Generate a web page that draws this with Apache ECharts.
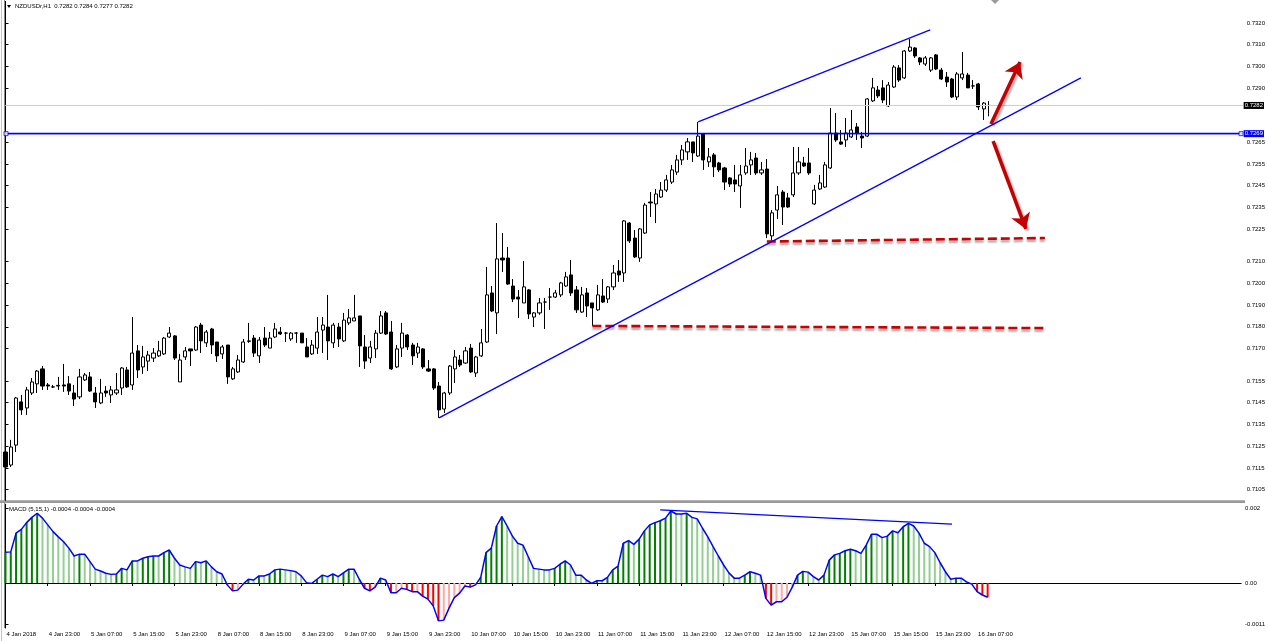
<!DOCTYPE html>
<html><head><meta charset="utf-8">
<script src="https://cdn.jsdelivr.net/npm/echarts@6/dist/echarts.min.js"></script>
<style>html,body{margin:0;padding:0;background:#fff}#c{width:1268px;height:641px}</style>
</head><body><div id="c"></div>
<script>
// ---------- DATA ----------
const opens = [
0.71223,0.71163,0.71255,0.71454,0.71426,0.71495,0.71537,0.71606,0.71532,0.71523,
0.71530,0.71532,0.71537,0.71495,0.71477,0.71555,0.71569,0.71495,0.71449,0.71504,
0.71486,0.71495,0.71518,0.71601,0.71532,0.71689,0.71615,0.71642,0.71656,0.71666,
0.71675,0.71753,0.71758,0.71546,0.71661,0.71698,0.71693,0.71808,0.71726,0.71790,
0.71730,0.71675,0.71716,0.71560,0.71592,0.71638,0.71733,0.71748,0.71666,0.71748,
0.71702,0.71753,0.71776,0.71771,0.71744,0.71771,0.71771,0.71707,0.71675,0.71702,
0.71785,0.71799,0.71726,0.71799,0.71735,0.71818,0.71827,0.71850,0.71707,0.71656,
0.71698,0.71771,0.71864,0.71776,0.71615,0.71702,0.71762,0.71716,0.71679,0.71698,
0.71606,0.71606,0.71527,0.71421,0.71495,0.71606,0.71647,0.71633,0.71702,0.71587,
0.71666,0.71730,0.71956,0.71864,0.72117,0.72117,0.71988,0.71937,0.71910,0.71970,
0.71845,0.71864,0.71914,0.71937,0.71937,0.71947,0.71988,0.72039,0.71970,0.71868,
0.71956,0.71910,0.71878,0.71942,0.71928,0.71984,0.72057,0.72048,0.72278,0.72209,
0.72117,0.72232,0.72375,0.72366,0.72398,0.72430,0.72467,0.72513,0.72569,0.72606,
0.72652,0.72587,0.72689,0.72560,0.72592,0.72555,0.72532,0.72486,0.72477,0.72449,
0.72509,0.72546,0.72578,0.72509,0.72527,0.72219,0.72338,0.72421,0.72394,0.72408,
0.72509,0.72555,0.72555,0.72366,0.72435,0.72444,0.72532,0.72693,0.72652,0.72661,
0.72675,0.72721,0.72679,0.72679,0.72841,0.72891,0.72901,0.72818,0.72905,0.72993,
0.72947,0.73071,0.73085,0.73039,0.73011,0.72983,0.73053,0.72983,0.72951,0.72942,
0.72859,0.72947,0.72960,0.72910,0.72919,0.72804,0.72820];
const closes = [
0.71154,0.71246,0.71472,0.71417,0.71509,0.71546,0.71596,0.71527,0.71527,0.71523,
0.71527,0.71527,0.71504,0.71467,0.71569,0.71578,0.71504,0.71454,0.71495,0.71495,
0.71509,0.71509,0.71610,0.71523,0.71679,0.71601,0.71661,0.71670,0.71679,0.71689,
0.71748,0.71771,0.71656,0.71647,0.71689,0.71689,0.71799,0.71735,0.71776,0.71716,
0.71666,0.71707,0.71569,0.71606,0.71647,0.71730,0.71735,0.71679,0.71739,0.71716,
0.71748,0.71790,0.71767,0.71771,0.71771,0.71771,0.71726,0.71661,0.71716,0.71776,
0.71808,0.71735,0.71808,0.71744,0.71831,0.71841,0.71841,0.71712,0.71642,0.71707,
0.71771,0.71850,0.71767,0.71606,0.71698,0.71771,0.71707,0.71666,0.71707,0.71615,
0.71596,0.71518,0.71417,0.71495,0.71619,0.71661,0.71624,0.71689,0.71592,0.71661,
0.71726,0.71947,0.71873,0.72113,0.72108,0.71997,0.71928,0.71928,0.71984,0.71859,
0.71864,0.71910,0.71914,0.71937,0.71956,0.72002,0.72030,0.71956,0.71878,0.71947,
0.71896,0.71887,0.71947,0.71914,0.71984,0.72048,0.72039,0.72288,0.72196,0.72122,
0.72251,0.72361,0.72371,0.72412,0.72430,0.72477,0.72523,0.72569,0.72615,0.72652,
0.72601,0.72679,0.72569,0.72583,0.72537,0.72523,0.72467,0.72458,0.72458,0.72500,
0.72541,0.72569,0.72509,0.72523,0.72228,0.72325,0.72408,0.72352,0.72352,0.72509,
0.72560,0.72541,0.72509,0.72430,0.72463,0.72546,0.72693,0.72661,0.72642,0.72693,
0.72707,0.72693,0.72670,0.72850,0.72901,0.72864,0.72845,0.72914,0.72997,0.72937,
0.73071,0.73089,0.73048,0.73020,0.73039,0.73039,0.72988,0.72942,0.72928,0.72859,
0.72965,0.72965,0.72901,0.72910,0.72813,0.72831,0.72820];
const lows = [
0.71131,0.71154,0.71223,0.71394,0.71394,0.71486,0.71495,0.71509,0.71509,0.71518,
0.71509,0.71500,0.71486,0.71435,0.71467,0.71550,0.71500,0.71426,0.71444,0.71477,
0.71449,0.71486,0.71486,0.71518,0.71509,0.71564,0.71583,0.71596,0.71638,0.71661,
0.71670,0.71748,0.71647,0.71546,0.71647,0.71619,0.71689,0.71679,0.71707,0.71675,
0.71638,0.71652,0.71537,0.71555,0.71587,0.71633,0.71726,0.71661,0.71633,0.71707,
0.71702,0.71748,0.71762,0.71730,0.71735,0.71726,0.71726,0.71661,0.71670,0.71675,
0.71679,0.71647,0.71702,0.71707,0.71730,0.71808,0.71827,0.71615,0.71606,0.71633,
0.71656,0.71767,0.71762,0.71601,0.71610,0.71661,0.71693,0.71624,0.71656,0.71606,
0.71592,0.71509,0.71380,0.71403,0.71486,0.71541,0.71615,0.71629,0.71587,0.71569,
0.71661,0.71726,0.71868,0.71767,0.72053,0.71993,0.71914,0.71841,0.71910,0.71836,
0.71799,0.71855,0.71790,0.71878,0.71933,0.71937,0.71984,0.71942,0.71864,0.71864,
0.71845,0.71804,0.71873,0.71910,0.71910,0.71970,0.72007,0.72007,0.72186,0.72117,
0.72099,0.72228,0.72306,0.72278,0.72394,0.72421,0.72458,0.72500,0.72546,0.72569,
0.72560,0.72583,0.72523,0.72537,0.72490,0.72513,0.72430,0.72444,0.72421,0.72348,
0.72500,0.72500,0.72500,0.72500,0.72209,0.72191,0.72297,0.72269,0.72348,0.72398,
0.72500,0.72537,0.72500,0.72361,0.72430,0.72440,0.72527,0.72652,0.72638,0.72629,
0.72670,0.72661,0.72624,0.72675,0.72836,0.72854,0.72831,0.72813,0.72901,0.72928,
0.72942,0.73066,0.73039,0.73006,0.73002,0.72974,0.72983,0.72937,0.72905,0.72854,
0.72845,0.72937,0.72901,0.72896,0.72799,0.72753,0.72770];
const highs = [
0.71242,0.71279,0.71477,0.71486,0.71523,0.71564,0.71601,0.71619,0.71541,0.71532,
0.71569,0.71629,0.71573,0.71532,0.71606,0.71587,0.71592,0.71523,0.71560,0.71527,
0.71527,0.71587,0.71615,0.71615,0.71845,0.71716,0.71712,0.71689,0.71702,0.71735,
0.71753,0.71799,0.71762,0.71675,0.71707,0.71698,0.71804,0.71818,0.71785,0.71795,
0.71730,0.71716,0.71716,0.71615,0.71670,0.71744,0.71818,0.71762,0.71753,0.71799,
0.71776,0.71818,0.71799,0.71776,0.71776,0.71776,0.71771,0.71748,0.71739,0.71845,
0.71845,0.71947,0.71818,0.71818,0.71864,0.71882,0.71947,0.71850,0.71762,0.71735,
0.71785,0.71873,0.71873,0.71827,0.71716,0.71818,0.71767,0.71726,0.71726,0.71702,
0.71647,0.71610,0.71546,0.71500,0.71624,0.71693,0.71670,0.71707,0.71721,0.71666,
0.71790,0.72076,0.71988,0.72278,0.72232,0.72168,0.72020,0.71970,0.72103,0.71974,
0.71868,0.71933,0.71933,0.71979,0.71970,0.72007,0.72053,0.72108,0.71988,0.71984,
0.71979,0.71910,0.71993,0.72020,0.71988,0.72085,0.72108,0.72292,0.72283,0.72246,
0.72255,0.72371,0.72421,0.72435,0.72467,0.72500,0.72546,0.72592,0.72638,0.72670,
0.72652,0.72744,0.72693,0.72624,0.72601,0.72560,0.72537,0.72490,0.72546,0.72546,
0.72624,0.72606,0.72601,0.72560,0.72573,0.72338,0.72449,0.72430,0.72417,0.72629,
0.72629,0.72583,0.72624,0.72454,0.72500,0.72560,0.72808,0.72785,0.72707,0.72762,
0.72799,0.72739,0.72698,0.72854,0.72947,0.72910,0.72937,0.72928,0.73006,0.73006,
0.73076,0.73126,0.73089,0.73043,0.73048,0.73043,0.73057,0.72993,0.72974,0.72947,
0.72974,0.73066,0.72970,0.72937,0.72924,0.72836,0.72840];
// MACD (5,15,1) main values (signal of period 1 equals main)
const macdValues = [
0.00082,0.00083,0.00133,0.00143,0.00161,0.00175,0.00186,0.00173,0.00155,0.00137,
0.00123,0.00110,0.00093,0.00072,0.00077,0.00077,0.00057,0.00037,0.00032,0.00026,
0.00023,0.00024,0.00039,0.00035,0.00059,0.00059,0.00066,0.00070,0.00072,0.00072,
0.00081,0.00088,0.00066,0.00048,0.00043,0.00039,0.00057,0.00054,0.00059,0.00043,
0.00030,0.00024,-0.00005,-0.00021,-0.00019,-0.00003,0.00010,0.00008,0.00019,0.00019,
0.00024,0.00035,0.00037,0.00035,0.00033,0.00030,0.00019,0.00001,-0.00001,0.00010,
0.00021,0.00017,0.00024,0.00017,0.00027,0.00037,0.00037,0.00010,-0.00014,-0.00021,
-0.00011,0.00013,0.00008,-0.00026,-0.00026,-0.00014,-0.00017,-0.00023,-0.00023,-0.00035,
-0.00043,-0.00061,-0.00101,-0.00099,-0.00067,-0.00039,-0.00027,-0.00008,-0.00011,-0.00005,
0.00015,0.00081,0.00093,0.00152,0.00177,0.00152,0.00125,0.00106,0.00101,0.00070,
0.00039,0.00037,0.00035,0.00035,0.00039,0.00050,0.00059,0.00048,0.00021,0.00021,
0.00008,-0.00001,0.00006,0.00006,0.00015,0.00035,0.00045,0.00106,0.00113,0.00103,
0.00117,0.00139,0.00155,0.00161,0.00166,0.00173,0.00192,0.00184,0.00184,0.00186,
0.00175,0.00171,0.00146,0.00123,0.00097,0.00072,0.00048,0.00027,0.00013,0.00013,
0.00021,0.00030,0.00026,0.00021,-0.00041,-0.00059,-0.00050,-0.00050,-0.00038,-0.00011,
0.00021,0.00031,0.00029,0.00017,0.00008,0.00021,0.00061,0.00075,0.00079,0.00086,
0.00090,0.00086,0.00079,0.00101,0.00130,0.00130,0.00121,0.00125,0.00139,0.00134,
0.00150,0.00159,0.00152,0.00133,0.00106,0.00097,0.00081,0.00054,0.00030,0.00010,
0.00013,0.00013,0.00003,-0.00003,-0.00023,-0.00032,-0.00038];

const xTickLabels = ['4 Jan 2018','4 Jan 23:00','5 Jan 07:00','5 Jan 15:00','5 Jan 23:00','8 Jan 07:00',
 '8 Jan 15:00','8 Jan 23:00','9 Jan 07:00','9 Jan 15:00','9 Jan 23:00','10 Jan 07:00','10 Jan 15:00',
 '10 Jan 23:00','11 Jan 07:00','11 Jan 15:00','11 Jan 23:00','12 Jan 07:00','12 Jan 15:00','12 Jan 23:00',
 '15 Jan 07:00','15 Jan 15:00','15 Jan 23:00','16 Jan 07:00'];
const priceTicks = [0.7320,0.7310,0.7300,0.7290,0.7265,0.7255,0.7245,0.7235,0.7225,0.7210,0.7200,
 0.7190,0.7180,0.7170,0.7155,0.7145,0.7135,0.7125,0.7115,0.7105];
const macdTickValues = [0.002, 0, -0.0011];
const macdTickLabels = ['0.002', '0.00', '-0.0011'];

const hLevel = 0.7269;        // horizontal blue line
const currentPrice = 0.7282;  // bid line
// drawn objects, in [bar index, price]
const channelLow = [[82, 0.71380], [203.4, 0.72947]];
const channelHigh = [[131, 0.72744], [174.9, 0.73168]];
const supportA = [[144, 0.72193], [196.6, 0.72209]];
const supportB = [[111, 0.71804], [196.6, 0.71794]];
const arrowUp = [[186.4, 0.72735], [191.9, 0.73020]];
const arrowDown = [[186.8, 0.72656], [193.0, 0.72251]];
const macdTrend = [[124, 0.00195], [179.25, 0.00157]];

// ---------- build ----------
const SLOTS = 235;
function hourSlots(n){
  const out = []; let t = Date.UTC(2018,0,4,15);
  while (out.length < n) {
    const d = new Date(t), wd = d.getUTCDay();
    if (wd !== 0 && wd !== 6) out.push(d.getUTCDate()+' Jan '+String(d.getUTCHours()).padStart(2,'0')+':00');
    t += 3600000;
  }
  return out;
}
const categories = hourSlots(SLOTS);
const candleData = opens.map((o,i)=>[o, closes[i], lows[i], highs[i]]);
const macdBars = macdValues.map((v,i)=>{
  const p = i>0 ? macdValues[i-1] : -1;
  let c;
  if (v >= 0) c = v > p ? '#008000' : '#93cf93';
  else c = v < p ? '#ff0000' : '#ffa8a8';
  return {value:v, itemStyle:{color:c}};
});
const FONT = 'Liberation Sans';
const showTick = idx => idx % 8 === 0 && idx/8 < xTickLabels.length;
const near = (v, list) => list.findIndex(t => Math.abs(v - t) < 1e-7);
const priceLine = (val, color, width, bg) => [
  {coord:[0, val], lineStyle:{color:color, width:width, type:'solid'},
   label:{show:true, position:'end', distance:1, formatter:val.toFixed(4), color:'#fff',
     backgroundColor:bg, padding:[1,1,0,1], fontSize:6, fontFamily:FONT}},
  {coord:[SLOTS-1, val]}
];

const G0 = {left:5.5, right:23, top:1.3, height:499.1};
const G1 = {left:5.5, right:23, top:504.25, height:123.75};

const chart = echarts.init(document.getElementById('c'), null, {renderer:'canvas'});
chart.setOption({
  animation:false,
  backgroundColor:'#fff',
  grid:[G0, G1],
  xAxis:[
    {type:'category', gridIndex:0, data:categories, boundaryGap:false, show:false},
    {type:'category', gridIndex:1, data:categories, boundaryGap:false,
     axisLine:{show:true, lineStyle:{color:'#000', width:1}},
     axisTick:{show:true, interval:showTick, length:3, lineStyle:{color:'#000'}},
     axisLabel:{interval:showTick, align:'left', margin:3, padding:[0,0,0,1], fontSize:6, fontFamily:FONT, color:'#000',
       formatter:(v,idx)=> xTickLabels[idx/8] || ''},
     splitLine:{show:false}},
    {type:'value', gridIndex:0, min:0, max:SLOTS-1, show:false},
    {type:'value', gridIndex:1, min:0, max:SLOTS-1, show:false}
  ],
  yAxis:[
    {type:'value', gridIndex:0, position:'right', min:0.7100, max:0.7330, interval:0.0005,
     axisLine:{show:true, lineStyle:{color:'#000', width:1}},
     axisTick:{show:true, length:3, customValues:priceTicks, lineStyle:{color:'#000'}},
     axisLabel:{customValues:priceTicks, margin:4, fontSize:6, fontFamily:FONT, color:'#000',
       formatter:v => near(v, priceTicks) >= 0 ? v.toFixed(4) : ''},
     splitLine:{show:false}},
    {type:'value', gridIndex:1, position:'right', min:-0.0012, max:0.0021, interval:0.0001,
     axisLine:{show:true, lineStyle:{color:'#000', width:1}},
     axisTick:{show:true, length:3, customValues:macdTickValues, lineStyle:{color:'#000'}},
     axisLabel:{customValues:macdTickValues, margin:4, fontSize:6, fontFamily:FONT, color:'#000',
       formatter:v => { const k = near(v, macdTickValues); return k >= 0 ? macdTickLabels[k] : ''; }},
     splitLine:{show:false}}
  ],
  series:[
    {type:'line', xAxisIndex:2, yAxisIndex:0, data:[[0,currentPrice],[SLOTS-1,currentPrice]], symbol:'none', z:1,
     lineStyle:{color:'#cfcfcf', width:1}, silent:true,
     markLine:{silent:true, symbol:'none', animation:false, data:[
       priceLine(currentPrice, '#cfcfcf', 1, '#000000')
     ]}},
    {type:'candlestick', xAxisIndex:0, yAxisIndex:0, data:candleData, barWidth:3.6, z:2,
     itemStyle:{color:'#ffffff', color0:'#000000', borderColor:'#000000', borderColor0:'#000000',
       borderColorDoji:'#000000', borderWidth:1}},
    {type:'line', xAxisIndex:2, yAxisIndex:0, data:[[0,hLevel],[SLOTS-1,hLevel]], symbol:'none', z:5,
     lineStyle:{color:'#0000ff', width:1.3}, silent:true,
     markLine:{silent:true, symbol:'none', animation:false, data:[
       priceLine(hLevel, '#0000ff', 1.3, '#0000ff')
     ]}},
    {type:'line', xAxisIndex:2, yAxisIndex:0, data:channelLow, symbol:'none', z:5,
     lineStyle:{color:'#0000ff', width:1.3},
     markLine:{silent:true, animation:false, symbol:['none','arrow'], symbolSize:15,
       lineStyle:{color:'#c40000', width:3.5, type:'solid', shadowColor:'rgba(0,0,0,0.3)', shadowBlur:2, shadowOffsetX:2, shadowOffsetY:2},
       label:{show:false},
       data:[
         [{coord:arrowUp[0]},{coord:arrowUp[1]}],
         [{coord:arrowDown[0]},{coord:arrowDown[1]}]
       ]}},
    {type:'line', xAxisIndex:2, yAxisIndex:0, data:channelHigh, symbol:'none', z:5,
     lineStyle:{color:'#0000ff', width:1.3}},
    {type:'line', xAxisIndex:2, yAxisIndex:0, data:supportA, symbol:'none', z:4,
     lineStyle:{color:'#cc0000', width:2.6, type:[9,4], shadowColor:'rgba(0,0,0,0.35)', shadowBlur:2, shadowOffsetY:2.5}},
    {type:'line', xAxisIndex:2, yAxisIndex:0, data:supportB, symbol:'none', z:4,
     lineStyle:{color:'#cc0000', width:2.6, type:[9,4], shadowColor:'rgba(0,0,0,0.35)', shadowBlur:2, shadowOffsetY:2.5}},
    {type:'scatter', xAxisIndex:2, yAxisIndex:0, data:[[0.1,hLevel],[SLOTS-1.3,hLevel]], symbol:'rect', symbolSize:4, z:6,
     itemStyle:{color:'#ffffff', borderColor:'#0000ff', borderWidth:1}},
    {type:'bar', xAxisIndex:1, yAxisIndex:1, data:macdBars, barWidth:2, z:2},
    {type:'line', xAxisIndex:1, yAxisIndex:1, data:macdValues, symbol:'none', z:3,
     lineStyle:{color:'#0000ff', width:1.5}},
    {type:'line', xAxisIndex:3, yAxisIndex:1, data:macdTrend, symbol:'none', z:4,
     lineStyle:{color:'#0000ff', width:1.3}}
  ],
  graphic:[
    {type:'line', shape:{x1:1.5, y1:0, x2:1.5, y2:641}, style:{stroke:'#c4c4c4', lineWidth:1}, silent:true},
    {type:'line', shape:{x1:4.5, y1:0, x2:4.5, y2:628}, style:{stroke:'#8c8c8c', lineWidth:1}, silent:true},
    {type:'rect', shape:{x:0, y:500.3, width:1245, height:2.6}, style:{fill:'#9a9a9a'}, silent:true},
    {type:'polygon', shape:{points:[[7,5],[11,5],[9,8]]}, style:{fill:'#000'}, silent:true},
    {type:'text', x:15, y:3, style:{text:'NZDUSDr,H1  0.7282 0.7284 0.7277 0.7282', fontSize:6, fontFamily:FONT, fill:'#000'}, silent:true},
    {type:'text', x:9, y:506, style:{text:'MACD (5,15,1) -0.0004 -0.0004 -0.0004', fontSize:6, fontFamily:FONT, fill:'#000'}, silent:true},
    {type:'polygon', shape:{points:[[991,0],[999,0],[995,4]]}, style:{fill:'#9a9a9a'}, silent:true}
  ]
});
</script>
</body></html>
